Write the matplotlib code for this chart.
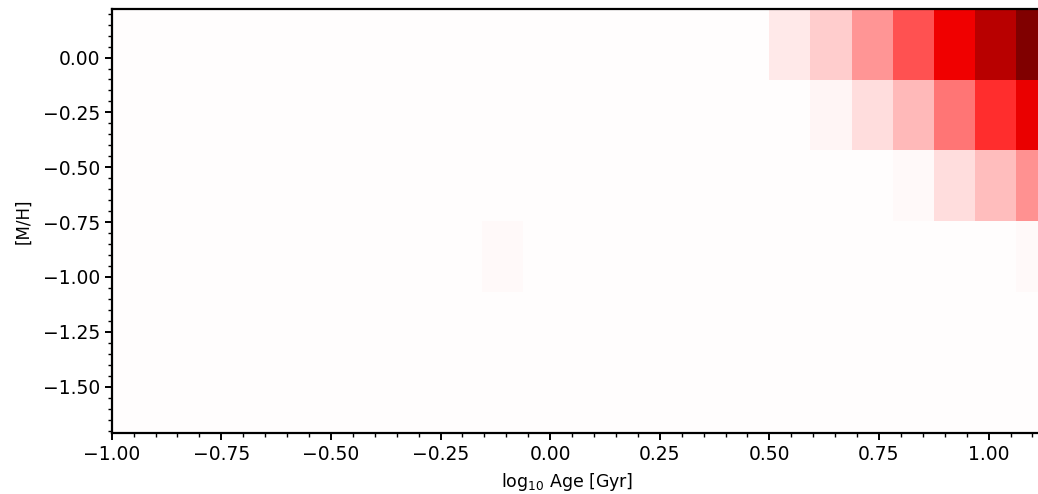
import numpy as np
import matplotlib
matplotlib.use("Agg")
import matplotlib.pyplot as plt

# grid of the weights map (log10 age columns, [M/H] rows)
age_lo, age_hi, n_age = -1.0, 1.15625, 23
metal_lo, metal_hi, n_metal = -1.71, 0.22, 6

# non-zero weights (column index -> weight), row by row from the top
row_top = {16: 0.045, 17: 0.10, 18: 0.21, 19: 0.34, 20: 0.56, 21: 0.78, 22: 1.0}
row_2 = {16: 0.005, 17: 0.02, 18: 0.07, 19: 0.14, 20: 0.27, 21: 0.41, 22: 0.58}
row_3 = {18: 0.003, 19: 0.01, 20: 0.065, 21: 0.13, 22: 0.215}
row_4 = {9: 0.012, 22: 0.015}
rows = [row_top, row_2, row_3, row_4]

xticks = [-1.0, -0.75, -0.5, -0.25, 0.0, 0.25, 0.5, 0.75, 1.0]
yticks = [0.0, -0.25, -0.5, -0.75, -1.0, -1.25, -1.5]

weights = np.zeros((n_metal, n_age))
for i, r in enumerate(rows):
    for j, w in r.items():
        weights[n_metal - 1 - i, j] = w

age_edges = np.linspace(age_lo, age_hi, n_age + 1)
metal_edges = np.linspace(metal_lo, metal_hi, n_metal + 1)

fig = plt.figure(figsize=(10.38, 4.94), dpi=100)
# the original screenshot is cut on the right, so the axes run past the figure edge
ax = fig.add_axes([0.1076, 0.1241, 0.9108, 0.8571])
ax.pcolormesh(age_edges, metal_edges, weights, cmap="seismic", vmin=-1, vmax=1)
ax.set_xlim(age_lo, age_hi)
ax.set_ylim(metal_lo, metal_hi)
ax.set_xticks(xticks)
ax.set_yticks(yticks)
ax.minorticks_on()
ax.tick_params(which="major", length=5, width=1.4, labelsize=13.5)
ax.tick_params(which="minor", length=3, width=1.0)
for s in ax.spines.values():
    s.set_linewidth(1.6)
ax.set_xlabel("log$_{10}$ Age [Gyr]", fontsize=12.5)
ax.xaxis.set_label_coords(0.482, -0.09)
ax.set_ylabel("[M/H]", fontsize=12)
ax.yaxis.set_label_coords(-0.084, 0.5)

plt.savefig("out.png", dpi=100)
